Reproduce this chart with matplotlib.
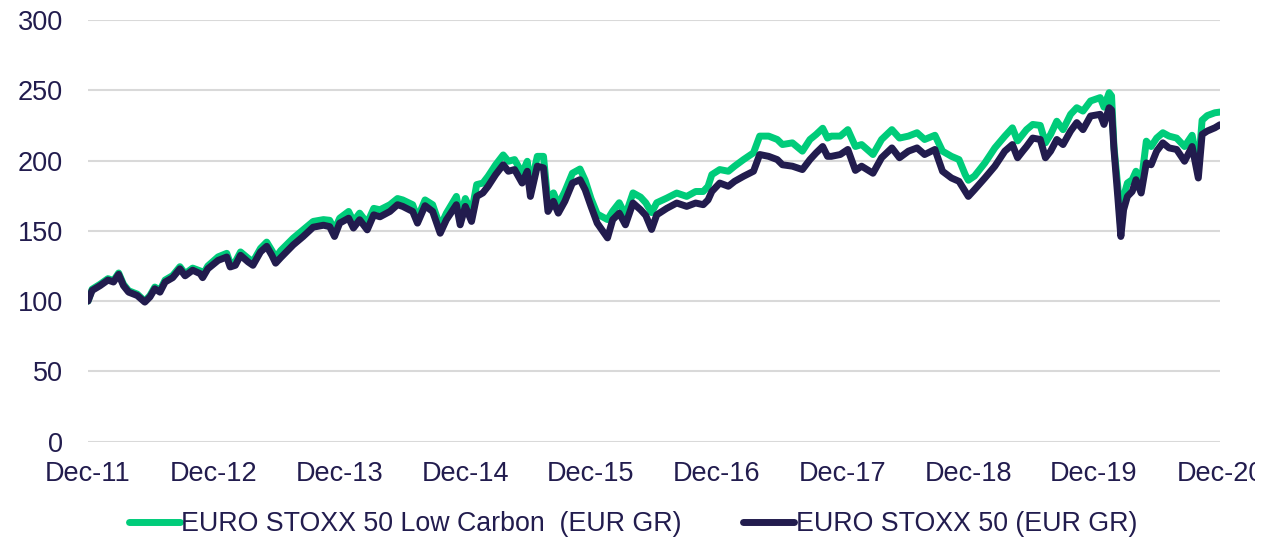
import matplotlib
matplotlib.use("Agg")
import matplotlib.pyplot as plt
import pandas as pd
from matplotlib.transforms import Bbox, TransformedBbox

dates = [
    "2011-12-31", "2012-01-12", "2012-02-04", "2012-02-27", "2012-03-14", "2012-03-29",
    "2012-04-12", "2012-04-27", "2012-05-22", "2012-06-13", "2012-06-28", "2012-07-12",
    "2012-07-27", "2012-08-11", "2012-09-02", "2012-09-23", "2012-10-08", "2012-10-30",
    "2012-11-21", "2012-11-28", "2012-12-13", "2013-01-12", "2013-02-06", "2013-02-16",
    "2013-03-03", "2013-03-18", "2013-04-09", "2013-04-23", "2013-05-15", "2013-06-02",
    "2013-06-17", "2013-06-28", "2013-07-13", "2013-08-18", "2013-09-16", "2013-10-15",
    "2013-11-14", "2013-12-02", "2013-12-16", "2013-12-31", "2014-01-26", "2014-02-09",
    "2014-02-27", "2014-03-21", "2014-04-09", "2014-04-27", "2014-05-26", "2014-06-17",
    "2014-07-02", "2014-07-31", "2014-08-14", "2014-09-05", "2014-09-27", "2014-10-19",
    "2014-11-06", "2014-12-05", "2014-12-16", "2014-12-31", "2015-01-18", "2015-02-02",
    "2015-02-20", "2015-03-07", "2015-03-29", "2015-04-20", "2015-05-05", "2015-05-23",
    "2015-06-14", "2015-06-29", "2015-07-08", "2015-07-28", "2015-08-15", "2015-08-28",
    "2015-09-13", "2015-09-27", "2015-10-16", "2015-11-07", "2015-11-29", "2015-12-14",
    "2015-12-31", "2016-01-18", "2016-02-17", "2016-03-03", "2016-03-22", "2016-04-09",
    "2016-05-01", "2016-05-23", "2016-06-07", "2016-06-24", "2016-07-09", "2016-08-07",
    "2016-09-05", "2016-10-04", "2016-10-30", "2016-11-21", "2016-12-05", "2016-12-16",
    "2017-01-08", "2017-02-02", "2017-02-20", "2017-03-18", "2017-04-16", "2017-05-04",
    "2017-05-30", "2017-06-24", "2017-07-09", "2017-08-07", "2017-09-05", "2017-09-27",
    "2017-10-15", "2017-11-03", "2017-11-17", "2017-11-28", "2017-12-24", "2018-01-15",
    "2018-02-06", "2018-02-24", "2018-03-29", "2018-04-23", "2018-05-23", "2018-06-14",
    "2018-07-10", "2018-08-04", "2018-08-26", "2018-09-25", "2018-10-17", "2018-11-12",
    "2018-12-04", "2018-12-22", "2018-12-31", "2019-01-18", "2019-02-17", "2019-03-18",
    "2019-04-16", "2019-05-08", "2019-05-23", "2019-06-07", "2019-06-18", "2019-07-06",
    "2019-07-28", "2019-08-12", "2019-08-27", "2019-09-14", "2019-10-02", "2019-10-24",
    "2019-11-11", "2019-11-29", "2019-12-21", "2020-01-18", "2020-01-29", "2020-02-13",
    "2020-02-20", "2020-02-27", "2020-03-09", "2020-03-18", "2020-03-26", "2020-04-06",
    "2020-04-20", "2020-05-01", "2020-05-16", "2020-05-31", "2020-06-14", "2020-06-30",
    "2020-07-18", "2020-08-05", "2020-08-27", "2020-09-19", "2020-10-11", "2020-10-29",
    "2020-11-09", "2020-11-24", "2020-12-16", "2020-12-31",
]

euro_stoxx_50 = [
    100, 107.6, 111, 115, 113.6, 119,
    111, 106.4, 104, 99.3, 103, 108.8,
    106.4, 113.6, 116.7, 123, 118, 122,
    119.5, 116.7, 123, 129, 131.4, 124.3,
    125.5, 132.6, 127.9, 125.5, 135, 139,
    132.6, 127, 131, 140, 146, 152.6,
    154, 153, 146, 155.5, 159, 152,
    157.9, 150.7, 161.4, 160, 163.8, 168.6,
    167.4, 163.8, 155.5, 167.9, 163.8, 148.3,
    157.9, 168.6, 154.3, 167.4, 156.7, 174.5,
    177, 181.7, 190, 197, 192.4, 193.6,
    184, 192.4, 174.5, 196, 194.8, 163.8,
    171, 162.6, 171, 184, 186.4, 179.3,
    167.4, 155.5, 145, 157.9, 162.6, 154.3,
    169.8, 165, 161, 151, 161.4, 166,
    169.8, 167.4, 169.8, 168.6, 172, 178,
    184, 181.7, 185.2, 188.8, 192.4, 204.3,
    203, 200.7, 197, 196, 193.6, 200.7,
    205.5, 210, 203, 203, 204.3, 207.9,
    193, 196, 191, 202, 209, 202,
    206.7, 209, 204.3, 207.9, 192.4, 187.6,
    185.2, 178, 174.5, 179.3, 187.6, 196,
    206.7, 211.4, 202, 206.7, 210, 216,
    215, 202, 206.7, 215, 211.4, 221,
    227, 222, 231.7, 232.9, 225.7, 237.6,
    236, 207.9, 174.5, 146, 165, 174.5,
    178, 186.4, 176.9, 198.3, 197, 206.7,
    212.6, 209, 207.9, 199.5, 210, 187.6,
    218.6, 221, 223.3, 225.5,
]

low_carbon = [
    100, 108.5, 112, 116, 114.6, 120,
    112, 107.4, 105, 100, 104, 110,
    107.8, 115, 118.2, 124.5, 119.5, 123.5,
    121.5, 118.5, 125, 131.5, 134, 127,
    128, 135, 130.5, 128, 137.5, 142,
    136, 131, 136, 144.8, 150.7, 156.7,
    158, 157.5, 150.7, 159, 163.8, 156.7,
    162.6, 155.5, 166, 165, 168.6, 173,
    172, 168.6, 159, 172, 168.6, 153,
    162.6, 174.5, 160, 173, 163, 182.9,
    184, 188.8, 197, 204, 199.5, 200.7,
    191, 199.5, 180.5, 203, 203, 170,
    177, 168.6, 178, 191, 194, 186,
    173, 162, 158, 164, 170, 161,
    177, 174, 170, 163, 170, 173.3,
    176.9, 174.5, 178, 178, 181.7, 190,
    193.6, 192.4, 196, 200.7, 205.5, 217.4,
    217.4, 215, 211.4, 212.6, 206.7, 215,
    218.6, 223, 216, 217.4, 217.4, 222,
    210, 211.4, 204.3, 215, 222, 216,
    217.4, 219.8, 215, 218, 206.7, 203,
    200.7, 190, 186, 189, 198.3, 209,
    217.4, 223.3, 214, 218.6, 222, 225.7,
    225, 212.6, 218.6, 228, 222, 232.9,
    237.6, 235.2, 242.4, 244.8, 238, 248.3,
    246, 210, 181.7, 151, 174.5, 184,
    186.4, 192.4, 184, 213.8, 210, 216,
    219.8, 217.4, 216, 210, 218, 195,
    228.7, 232, 234, 234.5,
]

series_labels = ["EURO STOXX 50 Low Carbon  (EUR GR)", "EURO STOXX 50 (EUR GR)"]
tick_years = list(range(2011, 2021))
y_ticks = [0, 50, 100, 150, 200, 250, 300]

GREEN = "#00CC7A"
NAVY = "#221C4E"
TEXT = "#221C4E"

plt.rcParams["font.family"] = ["Liberation Sans", "DejaVu Sans"]

x = pd.to_datetime(dates)

fig = plt.figure(figsize=(12.81, 5.40), dpi=100)
ax = fig.add_axes([88 / 1281, 1 - 441.7 / 540, (1220 - 88) / 1281, (441.7 - 20) / 540])

ax.plot(x, low_carbon, color=GREEN, lw=5, solid_joinstyle="round",
        solid_capstyle="round", label=series_labels[0], zorder=3)
ax.plot(x, euro_stoxx_50, color=NAVY, lw=5, solid_joinstyle="round",
        solid_capstyle="round", label=series_labels[1], zorder=4)

ax.set_ylim(0, 300)
ax.set_yticks(y_ticks)
ticks = [pd.Timestamp(f"{yr}-12-31") for yr in tick_years]
ax.set_xlim(ticks[0], ticks[-1])
ax.set_xticks(ticks)
ax.set_xticklabels([f"Dec-{yr % 100:02d}" for yr in tick_years])

ax.grid(axis="y", color="#D9D9D9", lw=1.5)
ax.set_axisbelow(True)
for s in ax.spines.values():
    s.set_visible(False)
ax.tick_params(axis="both", length=0, labelsize=19.5, colors=TEXT)
ax.tick_params(axis="x", pad=14)
ax.tick_params(axis="y", pad=18)

# the reference image cuts off the last x label at its right edge
clip = TransformedBbox(Bbox([[0, 0], [1255 / 1281, 1]]), fig.transFigure)
for lbl in ax.get_xticklabels():
    lbl.set_clip_box(clip)
    lbl.set_clip_on(True)

leg = fig.legend(loc="center", bbox_to_anchor=(633 / 1281, 1 - 524 / 540), ncol=2,
                 frameon=False, fontsize=19.3, handlelength=1.9, handletextpad=0.05,
                 columnspacing=2.3)
for t in leg.get_texts():
    t.set_color(TEXT)
for h in leg.get_lines():
    h.set_linewidth(5)

fig.savefig("out.png", dpi=100)
